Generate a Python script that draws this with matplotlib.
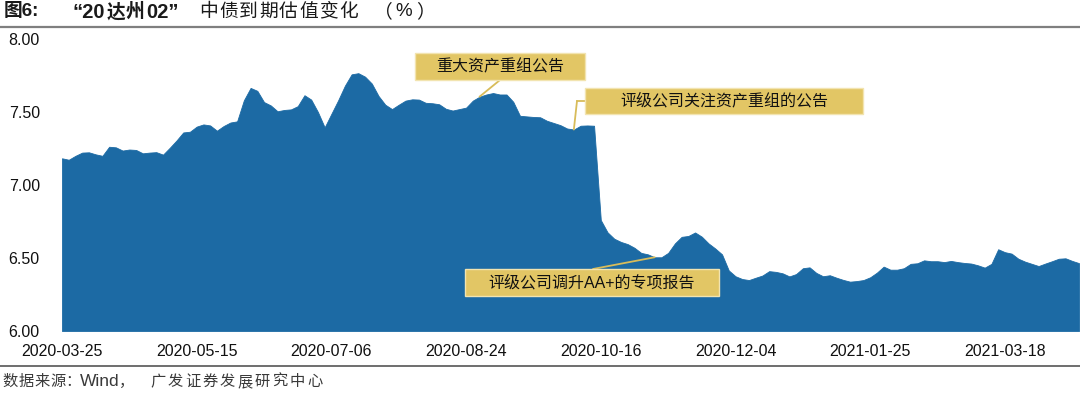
import matplotlib
matplotlib.use("Agg")
import matplotlib.pyplot as plt
from matplotlib.patches import Rectangle
from matplotlib.lines import Line2D

# valuation (%), one point every ~1/20 of a tick interval
values = [
    7.183, 7.173, 7.200, 7.222, 7.224, 7.210, 7.200, 7.262, 7.258, 7.236,
    7.243, 7.240, 7.217, 7.222, 7.225, 7.208, 7.255, 7.305, 7.360, 7.365,
    7.400, 7.415, 7.408, 7.372, 7.404, 7.428, 7.436, 7.580, 7.665, 7.645,
    7.568, 7.545, 7.505, 7.514, 7.518, 7.540, 7.615, 7.585, 7.500, 7.395,
    7.488, 7.580, 7.680, 7.758, 7.766, 7.742, 7.695, 7.610, 7.550, 7.520,
    7.550, 7.578, 7.587, 7.585, 7.563, 7.560, 7.553, 7.522, 7.510, 7.520,
    7.530, 7.578, 7.605, 7.620, 7.630, 7.620, 7.620, 7.570, 7.474, 7.470,
    7.466, 7.464, 7.440, 7.425, 7.410, 7.387, 7.380, 7.406, 7.408, 7.406,
    6.760, 6.676, 6.632, 6.610, 6.595, 6.570, 6.535, 6.525, 6.505, 6.505,
    6.535, 6.600, 6.645, 6.651, 6.675, 6.646, 6.600, 6.565, 6.525, 6.415,
    6.375, 6.356, 6.349, 6.365, 6.380, 6.410, 6.405, 6.395, 6.374, 6.390,
    6.430, 6.436, 6.398, 6.375, 6.382, 6.365, 6.350, 6.338, 6.342, 6.349,
    6.368, 6.400, 6.441, 6.420, 6.420, 6.430, 6.460, 6.464, 6.484, 6.478,
    6.478, 6.472, 6.480, 6.472, 6.466, 6.462, 6.450, 6.434, 6.460, 6.560,
    6.540, 6.530, 6.495, 6.475, 6.460, 6.445, 6.462, 6.478, 6.495, 6.498,
    6.480, 6.465,
]
tick_labels = ["2020-03-25", "2020-05-15", "2020-07-06", "2020-08-24",
               "2020-10-16", "2020-12-04", "2021-01-25", "2021-03-18"]
tick_step = 20
y_ticks = [6.0, 6.5, 7.0, 7.5, 8.0]

# events: (text, box in pixels (x0, y0, x1, y1), index of the point it marks)
events = [
    ("重大资产重组公告", (415, 53, 585, 80), 62),
    ("评级公司关注资产重组的公告", (585, 88, 863, 114), 76),
    ("评级公司调升AA+的专项报告", (465, 269, 719, 296), 88),
]

W, H = 1080, 397
BLUE = "#1c6aa4"
GOLD = "#e2c665"
LINE_GOLD = "#d8bc5a"
TXT = "#1a1a1a"


def fpx(x, y):
    """pixel (top-left origin) -> figure fraction"""
    return x / W, 1 - y / H


def spaced_text(fig, s, x_first, pitch, y, **kw):
    """draw s one char at a time, centres pitch pixels apart (letter spacing)"""
    for k, ch in enumerate(s):
        fx, fy = fpx(x_first + k * pitch, y)
        fig.text(fx, fy, ch, ha='center', va='center', **kw)


if __name__ == "__main__":
    plt.rcParams['font.family'] = ['Liberation Sans', 'Noto Sans CJK SC']

    fig = plt.figure(figsize=(W / 100, H / 100), dpi=100)
    ax = fig.add_axes([62 / W, 1 - 331 / H, (W - 62) / W, (331 - 39) / H])

    idx = list(range(len(values)))
    ax.fill_between(idx, 6.0, values, color=BLUE, lw=0.6, edgecolor=BLUE)
    ax.set_xlim(0, (W - 62) / 6.735)
    ax.set_ylim(6.0, 8.0)
    ax.set_yticks(y_ticks)
    ax.set_yticklabels(["%.2f" % v for v in y_ticks])
    ax.set_xticks([i * tick_step for i in range(len(tick_labels))])
    ax.set_xticklabels(tick_labels)
    ax.tick_params(axis='both', length=0, labelsize=11.5, colors="#111111")
    ax.tick_params(axis='x', pad=9)
    ax.tick_params(axis='y', pad=16)
    for s in ax.spines.values():
        s.set_visible(False)

    # title
    ty = fpx(0, 12)[1]
    tkw = dict(color=TXT, va='center', fontweight='bold')
    fig.text(4 / W, ty, "图6:", fontsize=13.5, **tkw)
    fig.text(72 / W, ty, "“20", fontsize=14.5, **tkw)
    spaced_text(fig, "达州", 116, 19.5, 12, fontsize=13.5, fontweight='bold', color=TXT)
    fig.text(146 / W, ty, "02”", fontsize=14.5, **tkw)
    spaced_text(fig, "中债到期估值变化", 208.5, 20, 12, fontsize=13.5, color=TXT)
    spaced_text(fig, "（%）", 383, 21, 12, fontsize=13.5, color=TXT)
    fig.add_artist(Line2D([0, 1], [fpx(0, 26.5)[1]] * 2, color="#7f7f7f", lw=1.6))

    # source
    fig.add_artist(Line2D([0, 1], [fpx(0, 366)[1]] * 2, color="#555555", lw=1.2))
    skw = dict(fontsize=11, color="#3a3a3a")
    spaced_text(fig, "数据来源：", 10.5, 15.7, 382, **skw)
    fig.text(80 / W, fpx(0, 382)[1], "Wind", va='center', fontsize=12.5, color="#3a3a3a")
    spaced_text(fig, "，", 127, 17, 382, **skw)
    spaced_text(fig, "广发证券发展研究中心", 158, 17.4, 382, **skw)

    # event boxes and leader lines
    for text, (x0, y0, x1, y1), i in events:
        fx0, fy1 = fpx(x0, y1)
        fx1, fy0 = fpx(x1, y0)
        fig.add_artist(Rectangle((fx0, fy1), fx1 - fx0, fy0 - fy1, transform=fig.transFigure,
                                 facecolor=GOLD, edgecolor="#f2e4b0", lw=1, zorder=3))
        fig.text((fx0 + fx1) / 2, (fy0 + fy1) / 2, text, fontsize=11.5, color="#111111",
                 ha='center', va='center', zorder=4)

    arrow = dict(arrowstyle='-', color=LINE_GOLD, lw=1.3, shrinkA=0, shrinkB=0)
    # box 1: straight from bottom centre
    ax.annotate('', xy=(62, values[62]), xycoords='data', xytext=(500, H - 80),
                textcoords='figure pixels', arrowprops=arrow)
    # box 2: elbow from the left edge
    fig.add_artist(Line2D([577 / W, 585 / W], [fpx(0, 101)[1]] * 2, color=LINE_GOLD, lw=1.3))
    ax.annotate('', xy=(76, values[76]), xycoords='data', xytext=(577, H - 101),
                textcoords='figure pixels', arrowprops=arrow)
    # box 3: from the top edge
    ax.annotate('', xy=(88, values[88]), xycoords='data', xytext=(593, H - 269),
                textcoords='figure pixels', arrowprops=arrow)

    fig.savefig("out.png", dpi=100)
